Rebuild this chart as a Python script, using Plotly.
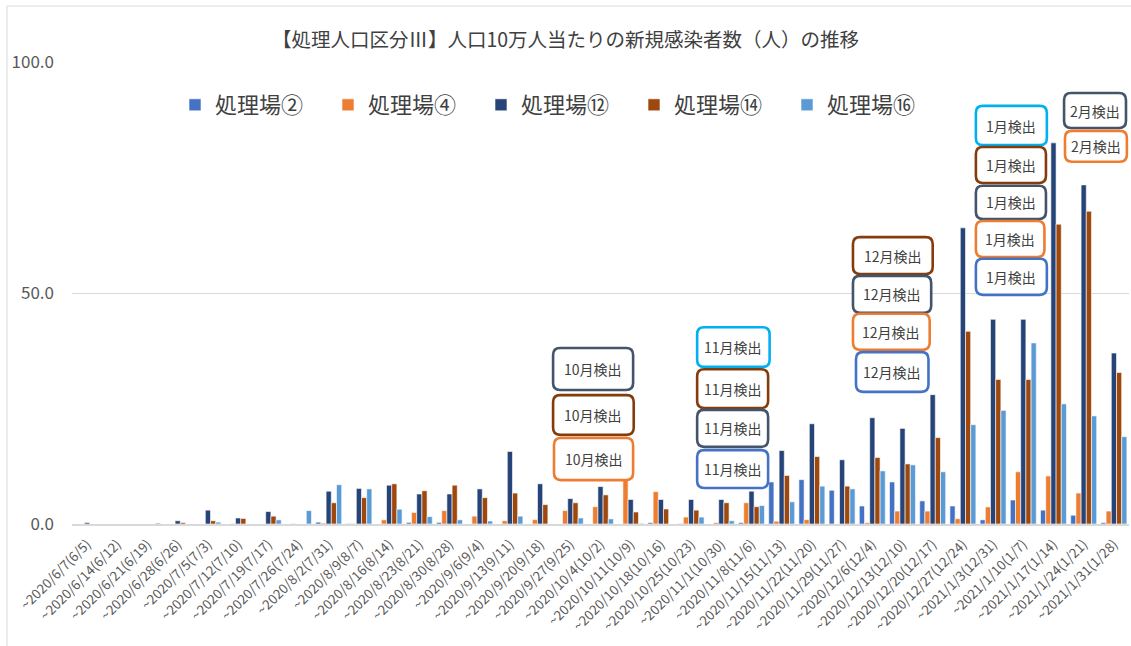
import plotly.graph_objects as go

# Weekly periods (week start, with the reporting date in parentheses)
weeks = [
    "~2020/6/7(6/5)", "~2020/6/14(6/12)", "~2020/6/21(6/19)", "~2020/6/28(6/26)",
    "~2020/7/5(7/3)", "~2020/7/12(7/10)", "~2020/7/19(7/17)", "~2020/7/26(7/24)",
    "~2020/8/2(7/31)", "~2020/8/9(8/7)", "~2020/8/16(8/14)", "~2020/8/23(8/21)",
    "~2020/8/30(8/28)", "~2020/9/6(9/4)", "~2020/9/13(9/11)", "~2020/9/20(9/18)",
    "~2020/9/27(9/25)", "~2020/10/4(10/2)", "~2020/10/11(10/9)", "~2020/10/18(10/16)",
    "~2020/10/25(10/23)", "~2020/11/1(10/30)", "~2020/11/8(11/6)", "~2020/11/15(11/13)",
    "~2020/11/22(11/20)", "~2020/11/29(11/27)", "~2020/12/6(12/4)", "~2020/12/13(12/10)",
    "~2020/12/20(12/17)", "~2020/12/27(12/24)", "~2021/1/3(12/31)", "~2021/1/10(1/7)",
    "~2021/1/17(1/14)", "~2021/1/24(1/21)", "~2021/1/31(1/28)",
]

# New cases per 100,000 population, per treatment plant
plant_02 = [0, 0, 0, 0, 0, 0, 0, 0, 0.4, 0.1, 0, 0.35,
            0.35, 0, 0, 0, 0, 0, 0, 0.3, 0.1, 0, 0.3, 9.1,
            9.6, 7.3, 3.9, 9.1, 5.0, 3.9, 0.9, 5.2, 3.0, 1.9, 0.3]
plant_04 = [0, 0, 0, 0, 0, 0.1, 0, 0.1, 0.2, 0.1, 0.9, 2.5,
            2.9, 1.7, 0.7, 0.95, 2.9, 3.75, 10.5, 7.0, 1.5, 0.3, 4.6, 0.6,
            0.95, 0, 0.3, 2.8, 2.8, 1.15, 3.7, 11.3, 10.4, 6.7, 2.8]
plant_12 = [0.3, 0, 0, 0.7, 3.0, 1.3, 2.7, 0, 7.1, 7.7, 8.4, 6.5,
            6.5, 7.6, 15.7, 8.7, 5.5, 8.1, 5.3, 5.3, 5.3, 5.3, 7.1, 15.9,
            21.7, 13.9, 23.0, 20.7, 28.0, 64.1, 44.3, 44.3, 82.5, 73.4, 37.0]
plant_14 = [0, 0, 0, 0.3, 0.7, 1.2, 1.7, 0, 4.6, 5.7, 8.7, 7.2,
            8.4, 5.7, 6.7, 4.2, 4.6, 6.3, 2.6, 3.25, 3.0, 4.6, 3.75, 10.5,
            14.6, 8.2, 14.4, 13.0, 18.7, 41.7, 31.3, 31.3, 64.9, 67.7, 32.8]
plant_16 = [0, 0, 0.2, 0, 0.4, 0, 0.9, 2.9, 8.5, 7.6, 3.2, 1.6,
            0.9, 0.65, 1.7, 0, 1.3, 1.1, 0.15, 0, 1.5, 0.7, 4.0, 4.8,
            8.2, 7.6, 11.5, 12.8, 11.3, 21.5, 24.6, 39.2, 26.0, 23.4, 18.9]

series_names = ["処理場②", "処理場④", "処理場⑫", "処理場⑭", "処理場⑯"]
series_values = [plant_02, plant_04, plant_12, plant_14, plant_16]
series_colors = ["#4472C4", "#ED7D31", "#264478", "#9E480E", "#5B9BD5"]

y_ticks = [0, 50, 100]
y_tick_text = ["0.0", "50.0", "100.0"]

# Callout boxes: (left idx, right idx, bottom value, top value, border colour, label)
SLATE, BROWN, ORANGE, CYAN, BLUE = "#44546A", "#843C0C", "#ED7D31", "#00B0F0", "#4472C4"
callouts = [
    (15.43, 18.08, 29.0, 38.1, SLATE, "10月検出"),
    (15.43, 18.1, 19.3, 27.9, BROWN, "10月検出"),
    (15.46, 18.08, 9.5, 18.6, ORANGE, "10月検出"),
    (20.2, 22.6, 34.0, 42.6, CYAN, "11月検出"),
    (20.2, 22.55, 25.1, 33.5, BROWN, "11月検出"),
    (20.2, 22.55, 16.7, 24.7, SLATE, "11月検出"),
    (20.2, 22.55, 7.8, 16.0, BLUE, "11月検出"),
    (25.36, 28.0, 54.1, 62.1, BROWN, "12月検出"),
    (25.36, 27.95, 45.7, 53.7, SLATE, "12月検出"),
    (25.36, 27.9, 37.7, 45.5, ORANGE, "12月検出"),
    (25.46, 27.86, 28.6, 37.2, BLUE, "12月検出"),
    (29.43, 31.78, 82.0, 90.5, CYAN, "1月検出"),
    (29.43, 31.75, 73.8, 81.6, BROWN, "1月検出"),
    (29.43, 31.75, 66.0, 73.2, SLATE, "1月検出"),
    (29.43, 31.7, 57.8, 65.6, ORANGE, "1月検出"),
    (29.43, 31.78, 49.6, 57.4, BLUE, "1月検出"),
    (32.35, 34.4, 85.7, 93.3, SLATE, "2月検出"),
    (32.38, 34.43, 78.4, 85.1, ORANGE, "2月検出"),
]

W, H = 1131, 646
ML, MR, MT, MB = 72, 2, 62, 122
PW, PH = W - ML - MR, H - MT - MB
N = len(weeks)
Y_MAX = 100

fig = go.Figure()
for name, vals, col in zip(series_names, series_values, series_colors):
    fig.add_trace(go.Bar(
        x=weeks, y=vals, name=name,
        marker=dict(color=col, line=dict(color="white", width=0.6)),
    ))


def to_paper(idx, val):
    return (idx + 0.5) / N, val / Y_MAX


def rounded_box(x0, x1, y0, y1, r_px=7):
    rx, ry = r_px / PW, r_px / PH
    return (f"M {x0 + rx},{y0} L {x1 - rx},{y0} Q {x1},{y0} {x1},{y0 + ry} "
            f"L {x1},{y1 - ry} Q {x1},{y1} {x1 - rx},{y1} "
            f"L {x0 + rx},{y1} Q {x0},{y1} {x0},{y1 - ry} "
            f"L {x0},{y0 + ry} Q {x0},{y0} {x0 + rx},{y0} Z")


shapes = []
annotations = []
for i0, i1, v0, v1, col, label in callouts:
    px0, py0 = to_paper(i0, v0)
    px1, py1 = to_paper(i1, v1)
    shapes.append(dict(
        type="path", xref="paper", yref="paper",
        path=rounded_box(px0, px1, py0, py1),
        fillcolor="white", line=dict(color=col, width=2.6), layer="above",
    ))
    annotations.append(dict(
        x=(px0 + px1) / 2, y=(py0 + py1) / 2, xref="paper", yref="paper",
        xanchor="center", yanchor="middle",
        text=label, showarrow=False,
        font=dict(family="Noto Sans CJK JP", size=14, color="#404040"),
    ))

# Chart-area frame (left and top edges visible)
shapes.append(dict(
    type="rect", xref="paper", yref="paper",
    x0=(7 - ML) / PW, x1=(W + 5 - ML) / PW,
    y0=(H - MB - 660) / PH, y1=(H - MB - 6) / PH,
    line=dict(color="#D9D9D9", width=1), fillcolor="rgba(0,0,0,0)", layer="below",
))

fig.update_layout(
    width=W, height=H,
    margin=dict(l=ML, r=MR, t=MT, b=MB),
    paper_bgcolor="white", plot_bgcolor="white",
    barmode="group", bargap=0.14, bargroupgap=0,
    font=dict(family="Noto Sans CJK JP", color="#595959"),
    title=dict(
        text="【処理人口区分Ⅲ】人口10万人当たりの新規感染者数（人）の推移",
        x=0.5, xanchor="center", y=1 - 40 / H, yanchor="middle",
        font=dict(family="Noto Sans CJK JP", size=19.5, color="#404040"),
    ),
    legend=dict(
        orientation="h", x=(175 - ML) / PW, xanchor="left",
        y=(H - MB - 105) / PH, yanchor="middle",
        font=dict(family="Noto Sans CJK JP", size=22, color="#404040"),
        itemwidth=30, entrywidth=108, entrywidthmode="pixels",
        bgcolor="rgba(0,0,0,0)",
    ),
    xaxis=dict(
        type="category", tickangle=-45, showgrid=False, ticks="",
        showline=True, linecolor="#D9D9D9", linewidth=2,
        ticklabelstandoff=5,
        tickfont=dict(family="Noto Sans CJK JP", size=13.5, color="#595959"),
    ),
    yaxis=dict(
        range=[0, Y_MAX], tickvals=y_ticks, ticktext=y_tick_text,
        showgrid=True, gridcolor="#D9D9D9", gridwidth=1, zeroline=False,
        ticks="", ticklabelstandoff=17,
        tickfont=dict(family="Noto Sans CJK JP", size=17, color="#595959"),
    ),
    shapes=shapes, annotations=annotations,
)

fig.write_html("out.html")
